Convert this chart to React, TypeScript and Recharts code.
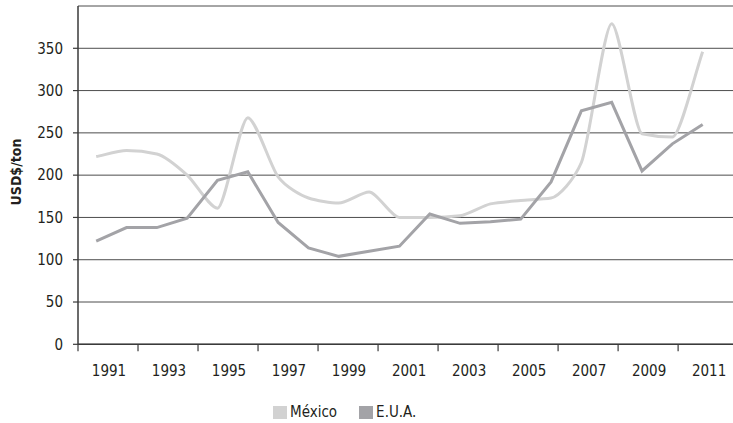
import { CartesianGrid, Line, LineChart, XAxis, YAxis } from "recharts";

const years = [
  1991, 1992, 1993, 1994, 1995, 1996, 1997, 1998, 1999, 2000, 2001, 2002, 2003, 2004, 2005, 2006,
  2007, 2008, 2009, 2010, 2011,
];
const mexico = [222, 229, 225, 200, 161, 268, 198, 173, 167, 180, 150, 150, 152, 166, 170, 173, 215, 379, 249, 245, 346];
const eua = [122, 138, 138, 149, 194, 204, 144, 114, 104, 110, 116, 154, 143, 145, 148, 192, 276, 286, 205, 237, 260];
const xTickLabels = ["1991", "1993", "1995", "1997", "1999", "2001", "2003", "2005", "2007", "2009", "2011"];
const yTicks = [0, 50, 100, 150, 200, 250, 300, 350];

const series = [
  { key: "mexico", label: "México", color: "#d2d2d2" },
  { key: "eua", label: "E.U.A.", color: "#a3a3a7" },
];

const data = years.map((year, i) => ({ year, mexico: mexico[i], eua: eua[i] }));

// the printed axis has its tick marks slightly out of step with the yearly points
const X_MIN = 1990.4;
const X_MAX = 2012.0;
const TICK_STEP = 1.979;
const xTicks = xTickLabels.map((_, k) => X_MIN + k * TICK_STEP);

const FONT = "'Liberation Sans Narrow', 'DejaVu Sans Condensed', 'Roboto', sans-serif";
const INK = "#231f20";

// monotone smoothing (no overshoot) but with shorter handles, so peaks stay sharp
function tightMonotone(handle: number) {
  return (context: any) => {
    let pts: Array<[number, number]> = [];
    return {
      areaStart() {},
      areaEnd() {},
      lineStart() {
        pts = [];
      },
      lineEnd() {
        const n = pts.length;
        if (!n) return;
        const sec = (i: number) => (pts[i + 1][1] - pts[i][1]) / (pts[i + 1][0] - pts[i][0]);
        const t: number[] = pts.map((_, i) => {
          if (n < 2) return 0;
          if (i === 0) return sec(0);
          if (i === n - 1) return sec(n - 2);
          const s0 = sec(i - 1);
          const s1 = sec(i);
          const h0 = pts[i][0] - pts[i - 1][0];
          const h1 = pts[i + 1][0] - pts[i][0];
          const p = (s0 * h1 + s1 * h0) / (h0 + h1);
          return (Math.sign(s0) + Math.sign(s1)) * Math.min(Math.abs(s0), Math.abs(s1), 0.5 * Math.abs(p)) || 0;
        });
        context.moveTo(pts[0][0], pts[0][1]);
        for (let i = 0; i < n - 1; i++) {
          const dx = (pts[i + 1][0] - pts[i][0]) * handle;
          context.bezierCurveTo(
            pts[i][0] + dx,
            pts[i][1] + dx * t[i],
            pts[i + 1][0] - dx,
            pts[i + 1][1] - dx * t[i + 1],
            pts[i + 1][0],
            pts[i + 1][1],
          );
        }
      },
      point(x: number, y: number) {
        pts.push([x, y]);
      },
    };
  };
}

function YearTick({ x, y, index }: { x: number; y: number; index: number }) {
  return (
    <g>
      <line x1={x} x2={x} y1={y} y2={y + 7} stroke="#3a3a3a" strokeWidth={1.2} />
      <text x={x + 31} y={y + 32} textAnchor="middle" fill={INK} fontSize={15} fontFamily={FONT}>
        {xTickLabels[index]}
      </text>
    </g>
  );
}

export default function App() {
  return (
    <div
      style={{
        position: "absolute",
        left: 0,
        top: 0,
        width: 733,
        height: 423,
        background: "#fff",
        fontFamily: FONT,
      }}
    >
      <LineChart width={733} height={423} data={data} margin={{ top: 6, right: 0, bottom: 48.7, left: 0 }}>
        <CartesianGrid stroke="#4d4d4d" strokeWidth={1} vertical={false} />
        <XAxis
          dataKey="year"
          type="number"
          domain={[X_MIN, X_MAX]}
          ticks={xTicks}
          interval={0}
          allowDataOverflow
          height={30}
          tickSize={0}
          tickMargin={0}
          tickLine={false}
          axisLine={{ stroke: "#3a3a3a", strokeWidth: 1.5 }}
          tick={(p: any) => <YearTick x={p.x} y={p.y} index={p.index} />}
        />
        <YAxis
          type="number"
          domain={[0, 400]}
          ticks={yTicks}
          interval={0}
          width={78}
          tickSize={5}
          tickMargin={10}
          tickLine={{ stroke: "#3a3a3a", strokeWidth: 1.2 }}
          axisLine={{ stroke: "#3a3a3a", strokeWidth: 1.5 }}
          tick={{ fill: INK, fontSize: 15, fontFamily: FONT }}
          label={{
            content: () => (
              <text
                x={16}
                y={172}
                transform="rotate(-90, 16, 172)"
                textAnchor="middle"
                dominantBaseline="central"
                fill={INK}
                fontSize={14}
                fontWeight="bold"
                fontFamily={FONT}
              >
                USD$/ton
              </text>
            ),
          }}
        />
        <Line
          dataKey="mexico"
          name="México"
          type={tightMonotone(0.25) as any}
          stroke={series[0].color}
          strokeWidth={3}
          dot={false}
          isAnimationActive={false}
        />
        <Line
          dataKey="eua"
          name="E.U.A."
          type="linear"
          stroke={series[1].color}
          strokeWidth={3}
          dot={false}
          isAnimationActive={false}
        />
      </LineChart>
      <div
        style={{
          position: "absolute",
          top: 403,
          left: 273,
          display: "flex",
          alignItems: "center",
          fontSize: 15,
          color: INK,
          lineHeight: "18px",
        }}
      >
        {series.map((s, i) => (
          <div key={s.key} style={{ display: "flex", alignItems: "center", marginRight: i === 0 ? 22 : 0 }}>
            <span style={{ display: "inline-block", width: 14, height: 13, background: s.color, marginRight: 3 }} />
            <span>{s.label}</span>
          </div>
        ))}
      </div>
    </div>
  );
}
